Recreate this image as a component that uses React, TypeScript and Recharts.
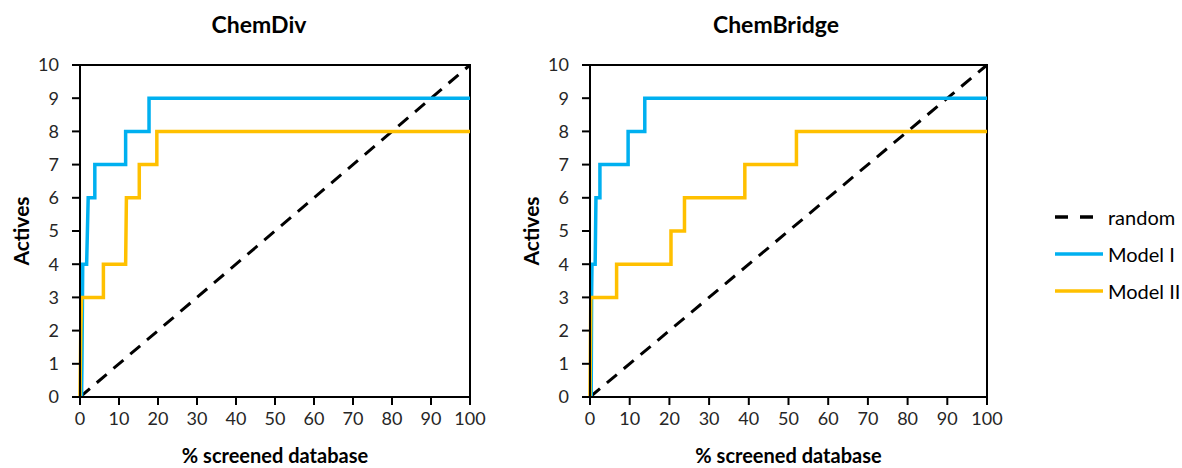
import React from "react";
import { LineChart, Line, XAxis, YAxis, ReferenceArea, Legend } from "recharts";

const FONT = "Lato, 'Open Sans', sans-serif";
const BLUE = "#00B0F0";
const ORANGE = "#FFC000";

const xTicks = [0, 10, 20, 30, 40, 50, 60, 70, 80, 90, 100];
const yTicks = [0, 1, 2, 3, 4, 5, 6, 7, 8, 9, 10];

const randomX = [0, 100];
const randomY = [0, 10];

// ChemDiv
const chemDivModel1X = [0.4, 0.5, 0.7, 1.7, 1.9, 2.1, 3.8, 3.8, 11.7, 11.7, 17.7, 17.7, 100];
const chemDivModel1Y = [0, 1, 4, 4, 5, 6, 6, 7, 7, 8, 8, 9, 9];
const chemDivModel2X = [0, 0.2, 0.4, 6.0, 6.0, 11.7, 11.9, 15.2, 15.2, 19.7, 19.7, 100];
const chemDivModel2Y = [0, 2, 3, 3, 4, 4, 6, 6, 7, 7, 8, 8];

// ChemBridge
const chemBridgeModel1X = [0.3, 0.4, 0.5, 1.3, 1.4, 1.5, 2.5, 2.5, 9.6, 9.6, 13.8, 13.8, 100];
const chemBridgeModel1Y = [0, 3, 4, 4, 5, 6, 6, 7, 7, 8, 8, 9, 9];
const chemBridgeModel2X = [0, 0.2, 6.7, 6.7, 20.4, 20.4, 23.8, 23.8, 39.0, 39.0, 52.0, 52.0, 100];
const chemBridgeModel2Y = [0, 3, 3, 4, 4, 5, 5, 6, 6, 7, 7, 8, 8];

const toPoints = (xs: number[], ys: number[]) => xs.map((x, i) => ({ x, y: ys[i] }));

const legendItems = [
  { name: "random", color: "#000", dash: true },
  { name: "Model I", color: BLUE, dash: false },
  { name: "Model II", color: ORANGE, dash: false },
];

function YTitle({ viewBox }: any) {
  const cx = viewBox.x + 20;
  const cy = viewBox.y + viewBox.height / 2;
  return (
    <text
      x={cx}
      y={cy}
      transform={`rotate(-90, ${cx}, ${cy})`}
      textAnchor="middle"
      dominantBaseline="central"
      fontFamily={FONT}
      fontWeight="bold"
      fontSize={21}
      fill="#000"
    >
      Actives
    </text>
  );
}

function XTitle({ viewBox }: any) {
  return (
    <text
      x={viewBox.x + viewBox.width / 2}
      y={viewBox.y + 58}
      textAnchor="middle"
      dominantBaseline="central"
      fontFamily={FONT}
      fontWeight="bold"
      fontSize={20}
      fill="#000"
    >
      % screened database
    </text>
  );
}

function LegendBox() {
  return (
    <div style={{ fontFamily: FONT, fontSize: 20, color: "#000" }}>
      {legendItems.map((it) => (
        <div key={it.name} style={{ display: "flex", alignItems: "center", height: 37 }}>
          <svg width={52} height={10}>
            <line
              x1={1}
              y1={5}
              x2={49}
              y2={5}
              stroke={it.color}
              strokeWidth={3.5}
              strokeDasharray={it.dash ? "13 12" : undefined}
            />
          </svg>
          <span style={{ marginLeft: 2 }}>{it.name}</span>
        </div>
      ))}
    </div>
  );
}

function RocPanel({
  width,
  marginRight,
  model1,
  model2,
  showLegend,
}: {
  width: number;
  marginRight: number;
  model1: { x: number; y: number }[];
  model2: { x: number; y: number }[];
  showLegend?: boolean;
}) {
  const tickStyle = { fontFamily: FONT, fontSize: 18, fill: "#262626" };
  return (
    <LineChart width={width} height={468} margin={{ top: 65, right: marginRight, bottom: 11, left: 0 }}>
      <XAxis
        type="number"
        dataKey="x"
        domain={[0, 100]}
        ticks={xTicks}
        interval={0}
        height={60}
        axisLine={{ stroke: "#000", strokeWidth: 2 }}
        tickLine={{ stroke: "#000", strokeWidth: 2 }}
        tickSize={8}
        tickMargin={7}
        tick={tickStyle}
        label={<XTitle />}
      />
      <YAxis
        type="number"
        dataKey="y"
        domain={[0, 10]}
        ticks={yTicks}
        interval={0}
        width={80}
        axisLine={{ stroke: "#000", strokeWidth: 2 }}
        tickLine={{ stroke: "#000", strokeWidth: 2 }}
        tickSize={8}
        tickMargin={13}
        tick={tickStyle}
        label={<YTitle />}
      />
      <ReferenceArea x1={0} x2={100} y1={0} y2={10} fill="none" stroke="#000" strokeWidth={2} />
      <Line
        data={toPoints(randomX, randomY)}
        dataKey="y"
        type="linear"
        stroke="#000"
        strokeWidth={3}
        strokeDasharray="13 9"
        dot={false}
        isAnimationActive={false}
      />
      <Line
        data={model1}
        dataKey="y"
        type="linear"
        stroke={BLUE}
        strokeWidth={3.5}
        dot={false}
        isAnimationActive={false}
      />
      <Line
        data={model2}
        dataKey="y"
        type="linear"
        stroke={ORANGE}
        strokeWidth={3.5}
        dot={false}
        isAnimationActive={false}
      />
      {showLegend && (
        <Legend
          layout="vertical"
          align="center"
          verticalAlign="middle"
          wrapperStyle={{ left: 544, top: 198, width: 128 }}
          content={() => <LegendBox />}
        />
      )}
    </LineChart>
  );
}

export default function App() {
  const titleStyle: React.CSSProperties = {
    position: "absolute",
    top: 9,
    fontFamily: FONT,
    fontWeight: "bold",
    fontSize: 23,
    lineHeight: "30px",
    textAlign: "center",
    width: 200,
    color: "#000",
  };
  return (
    <div style={{ position: "absolute", left: 0, top: 0, width: 1182, height: 468, background: "#fff" }}>
      <div style={{ ...titleStyle, left: 259 - 100 }}>ChemDiv</div>
      <div style={{ ...titleStyle, left: 776 - 100 }}>ChemBridge</div>
      <div style={{ position: "absolute", left: 0, top: 0 }}>
        <RocPanel
          width={560}
          marginRight={90}
          model1={toPoints(chemDivModel1X, chemDivModel1Y)}
          model2={toPoints(chemDivModel2X, chemDivModel2Y)}
        />
      </div>
      <div style={{ position: "absolute", left: 510, top: 0 }}>
        <RocPanel
          width={672}
          marginRight={195}
          model1={toPoints(chemBridgeModel1X, chemBridgeModel1Y)}
          model2={toPoints(chemBridgeModel2X, chemBridgeModel2Y)}
          showLegend
        />
      </div>
    </div>
  );
}
